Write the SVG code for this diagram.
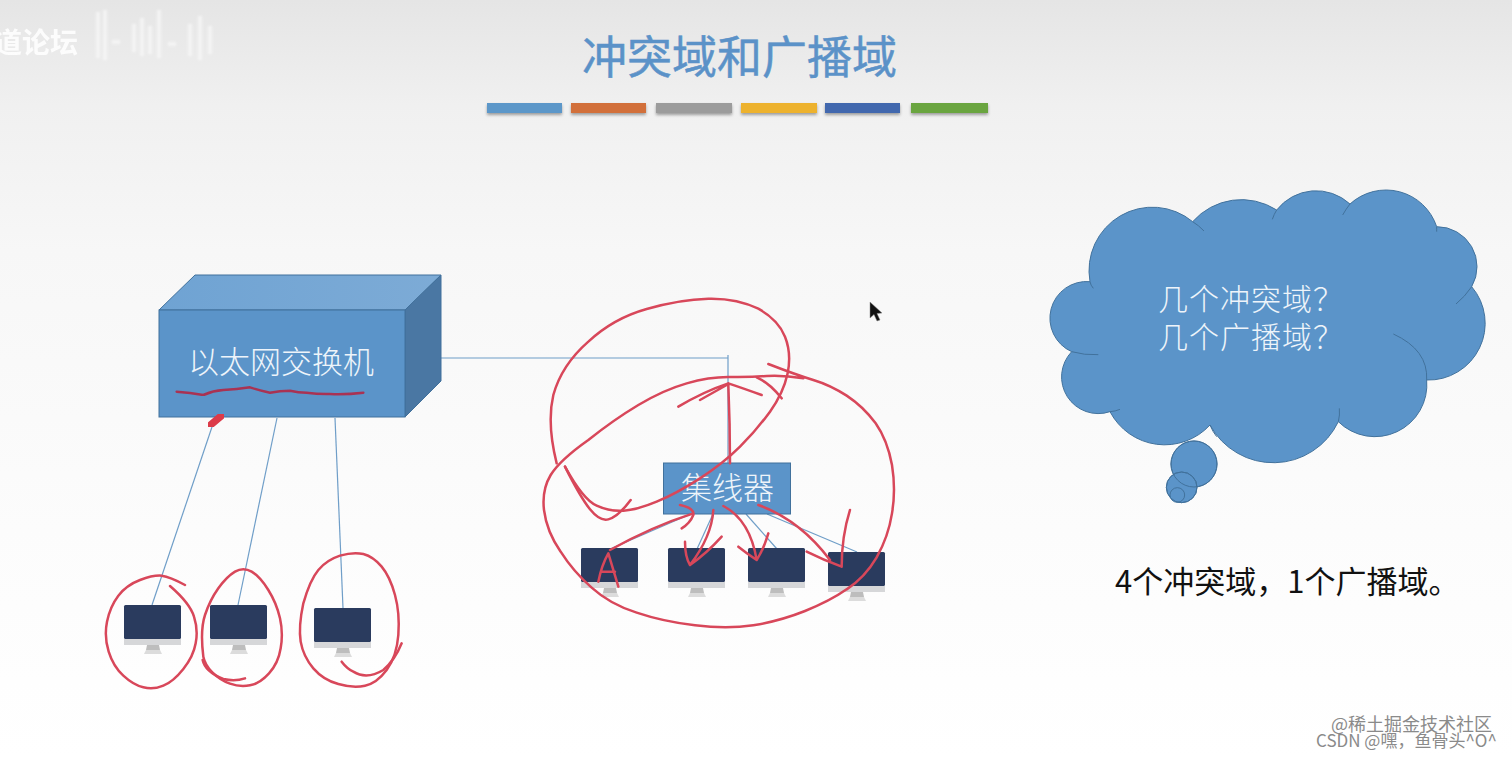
<svg xmlns="http://www.w3.org/2000/svg" xmlns:xlink="http://www.w3.org/1999/xlink" width="1512" height="757" viewBox="0 0 1512 757">
<style>
.cjk{font-family:"Noto Sans CJK SC","Liberation Sans",sans-serif}
.lbl{fill:#eef4fa;font-weight:300}
.conn{stroke:#6f9ec8;stroke-width:1.2;fill:none}
.ink{fill:none;stroke:#d8475a;stroke-linecap:round;stroke-linejoin:round;filter:url(#soft)}
.cl{fill:#5b94c9;stroke:#41719c;stroke-width:3}
.cli{fill:none;stroke:#41719c;stroke-width:3}
.bar{filter:url(#sh)}
</style>
<defs>
<linearGradient id="bg" x1="0" y1="0" x2="0" y2="1">
<stop offset="0" stop-color="#e5e5e5"/><stop offset=".14" stop-color="#f0f0f0"/><stop offset=".33" stop-color="#f7f7f7"/><stop offset=".7" stop-color="#fcfcfc"/><stop offset="1" stop-color="#fff"/>
</linearGradient>
<linearGradient id="top" x1="0" y1="0" x2="1" y2="0"><stop offset="0" stop-color="#6fa3d3"/><stop offset="1" stop-color="#7dabd6"/></linearGradient>
<filter id="sh" x="-5%" y="-30%" width="110%" height="180%"><feDropShadow dx="0" dy="2" stdDeviation="1.5" flood-color="#000" flood-opacity=".35"/></filter>
<filter id="soft" x="-5%" y="-5%" width="110%" height="110%"><feGaussianBlur stdDeviation="1.2"/></filter>
<filter id="wm" x="-5%" y="-20%" width="110%" height="140%"><feGaussianBlur stdDeviation=".8"/></filter>
<g id="mon">
<rect x="0" y="0" width="57" height="34" rx="1.5" fill="#2a3b5e"/>
<rect x="0" y="34" width="57" height="6" fill="#d6d7d9"/>
<polygon points="23,40 35,40 36,45 22,45" fill="#bdbdbd"/>
<polygon points="22,45 36,45 38,49 20,49" fill="#dcdcdc"/>
</g>
</defs>
<rect width="1512" height="757" fill="url(#bg)"/>

<g id="watermark-top">
<text class="cjk" x="-6" y="53" font-size="28" fill="#fff" font-weight="700" opacity=".9">道论坛</text>
<path d="M98 12V58M105 10V60M112 42H120M134 24V52M142 18V56M150 26V54M159 10V58M168 44H176M190 24V56M200 16V60M210 26V54" stroke="#f8f8f8" stroke-width="4" fill="none" opacity=".75" filter="url(#wm)"/>
</g>

<g id="title">
<text class="cjk" x="739.500" y="74" font-size="45" fill="#5b92c8" stroke="#5b92c8" stroke-width=".5" text-anchor="middle">冲突域和广播域</text>
<rect class="bar" x="487" y="103" width="75" height="10" fill="#5b97c9"/>
<rect class="bar" x="571" y="103" width="75" height="10" fill="#d2703a"/>
<rect class="bar" x="656" y="103" width="76" height="10" fill="#9c9c9c"/>
<rect class="bar" x="741" y="103" width="76" height="10" fill="#edb22f"/>
<rect class="bar" x="825" y="103" width="75" height="10" fill="#4268ae"/>
<rect class="bar" x="911" y="103" width="77" height="10" fill="#6ba540"/>
</g>

<g id="connectors">
<path class="conn" d="M215 418L152 605"/>
<path class="conn" d="M277 418L238 605"/>
<path class="conn" d="M335 418L343 608"/>
<path class="conn" d="M441 358H728M728 355V463"/>
<path class="conn" d="M693 513L610 549"/>
<path class="conn" d="M713 514L697 549"/>
<path class="conn" d="M746 514L777 549"/>
<path class="conn" d="M767 514L857 552"/>
</g>

<g id="switch">
<polygon points="159,310 195,275 441,275 405,310" fill="url(#top)" stroke="#41719c"/>
<polygon points="405,310 441,275 441,381 405,417" fill="#4a77a3" stroke="#41719c"/>
<rect x="159" y="310" width="246" height="107" fill="#5b94c9" stroke="#41719c"/>
<text class="cjk lbl" x="188" y="373" font-size="31">以太网交换机</text>
</g>

<g id="hub">
<rect x="663.500" y="463" width="127" height="51" fill="#5b94c9" stroke="#41719c"/>
<text class="cjk lbl" x="681" y="499" font-size="31">集线器</text>
</g>

<g id="pc1"><use xlink:href="#mon" href="#mon" x="124" y="605"/></g>
<g id="pc2"><use xlink:href="#mon" href="#mon" x="210" y="605"/></g>
<g id="pc3"><use xlink:href="#mon" href="#mon" x="314" y="608"/></g>
<g id="pc4"><use xlink:href="#mon" href="#mon" x="581" y="548"/></g>
<g id="pc5"><use xlink:href="#mon" href="#mon" x="668" y="548"/></g>
<g id="pc6"><use xlink:href="#mon" href="#mon" x="748" y="548"/></g>
<g id="pc7"><use xlink:href="#mon" href="#mon" x="828" y="552"/></g>

<g id="cloud">
<g transform="translate(1040 180) scale(.33333)">
<circle class="cl" cx="462" cy="852" r="69"/>
<circle class="cl" cx="425" cy="922" r="46"/>
<circle class="cl" cx="412" cy="945" r="22"/>
<path class="cl" d="M150 305A190 190 0 0 1 458 125A195 195 0 0 1 710 90A150 150 0 0 1 930 72A160 160 0 0 1 1190 140A120 120 0 0 1 1295 320A170 170 0 0 1 1160 600A156 156 0 0 1 895 725A216 216 0 0 1 510 735A185 185 0 0 1 210 695A110 110 0 0 1 95 515A110 110 0 0 1 150 305Z"/>
<path class="cli" d="M150 305Q152 316 160 325M458 125Q476 136 492 153M710 90Q702 103 697 118M930 72Q918 87 908 105M1190 140Q1190 148 1190 155M1295 320Q1275 350 1248 372M1060 462Q1165 510 1160 600M895 725Q900 705 898 685M510 735Q518 755 530 770M210 695Q226 694 240 688M95 515Q133 526 175 524"/>
<circle cx="462" cy="852" r="69" fill="none" stroke="#41719c" stroke-width="3"/>
<circle cx="425" cy="922" r="46" fill="none" stroke="#41719c" stroke-width="3"/>
</g>
<text class="cjk lbl" x="1158" y="310" font-size="30" letter-spacing="1">几个冲突域？</text>
<text class="cjk lbl" x="1158" y="348" font-size="30" letter-spacing="1">几个广播域？</text>
</g>

<g id="answer">
<text class="cjk" x="1115" y="593" font-size="31" fill="#111">4个冲突域，1个广播域。</text>
</g>

<g id="ink-left" transform="translate(90 260) scale(.33333)" stroke-width="7.500">
<path class="ink" style="stroke:#a93352" d="M260 395Q300 398 340 405Q370 392 400 390Q440 388 480 382Q510 392 540 398Q570 392 600 392Q625 398 650 398Q685 403 720 402Q770 404 820 398"/>
<path class="ink" style="stroke-width:22;stroke:#dc3a4a" d="M358 498L398 464"/>
<path class="ink" d="M285 975Q240 950 215 947Q190 945 150 960Q110 975 85 1007Q60 1040 51 1085Q42 1130 56 1175Q70 1220 100 1247Q130 1275 160 1282Q190 1290 220 1277Q250 1265 280 1227Q310 1190 317 1150Q325 1110 312 1070Q300 1030 240 978"/>
<path class="ink" d="M340 1190Q330 1110 345 1065Q360 1020 385 985Q410 950 435 935Q460 920 485 935Q510 950 535 990Q560 1030 570 1075Q580 1120 572 1165Q565 1210 537 1240Q510 1270 480 1276Q450 1282 420 1271Q390 1260 367 1237Q345 1215 340 1190"/>
<path class="ink" d="M338 1200Q345 1235 400 1257Q435 1265 465 1255"/>
<path class="ink" d="M640 1030Q625 1100 632 1145Q640 1190 670 1225Q700 1260 745 1272Q790 1285 825 1277Q860 1270 890 1230Q920 1190 925 1125Q930 1060 915 1005Q900 950 875 920Q850 890 820 882Q790 875 750 887Q710 900 685 930Q660 960 640 1030"/>
<path class="ink" d="M935 1150Q915 1200 880 1230Q830 1260 790 1235Q770 1225 755 1205"/>
</g>

<g id="ink-right" transform="translate(530 290) scale(.33333)" stroke-width="7.500">
<path class="ink" d="M105 530Q150 620 180 658Q210 695 235 688Q265 680 302 630"/>
<path class="ink" d="M80 520Q50 400 70 315Q95 225 175 155Q250 85 350 57Q450 28 535 26Q620 24 685 56Q745 90 765 140Q785 190 773 250Q760 310 720 365Q680 420 630 470Q580 520 510 565Q440 610 380 635Q320 660 280 662Q240 665 200 647Q160 630 105 530"/>
<path class="ink" d="M820 265Q760 255 710 258Q660 262 600 261Q540 260 470 280Q400 300 325 345Q250 390 175 450Q90 510 62 555Q35 600 42 660Q50 725 92 785Q130 845 185 893Q240 943 320 968Q400 995 495 1006Q590 1018 670 1006Q750 993 825 963Q900 933 950 898Q1005 862 1040 802Q1075 740 1086 670Q1098 600 1086 525Q1072 450 1037 400Q1000 350 950 317Q900 285 850 270Q800 255 715 222"/>
<path class="ink" d="M600 520Q600 400 595 285M445 350Q520 305 595 280M510 330L590 285M695 315Q640 295 595 280M755 325Q720 280 680 262"/>
<path class="ink" d="M240 780Q365 710 490 670M450 645Q495 655 490 675Q480 700 455 715"/>
<path class="ink" d="M550 660Q545 740 480 825M465 755Q465 800 480 825Q530 790 575 740"/>
<path class="ink" d="M580 648Q660 690 680 810M625 770Q650 790 680 810Q700 780 715 730"/>
<path class="ink" d="M685 645Q810 690 900 810M830 785Q880 810 935 830M960 660Q935 740 935 830"/>
<path class="ink" d="M205 875Q215 825 235 790Q250 840 265 890M215 845H255"/>
<path class="ink" d="M108 130h4"/>
</g>

<g id="cursor">
<path d="M870 302L870 318L874 314.500L877 321L880 320L877 313.500L882 313Z" fill="#111" stroke="#888" stroke-width=".5"/>
</g>

<g id="watermark-bottom" class="cjk" fill="#8a8a8a">
<text x="1331" y="731" font-size="18">@稀土掘金技术社区</text>
<text x="1316" y="747" font-size="17">CSDN @嘿，鱼骨头^O^</text>
</g>
</svg>
